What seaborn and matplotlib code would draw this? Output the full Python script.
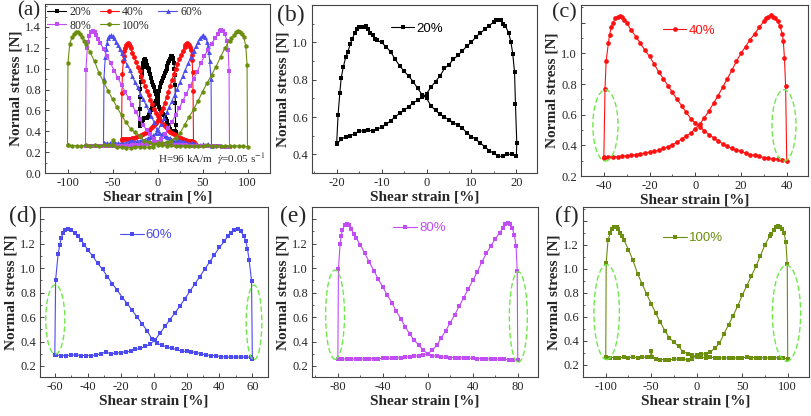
import numpy as np
import pandas as pd
import matplotlib
matplotlib.use("Agg")
import matplotlib.pyplot as plt
from matplotlib.patches import Ellipse
from matplotlib.ticker import AutoMinorLocator
import seaborn as sns

# ================= DATA =================
# "up" = strain increasing (-A -> +A), "down" = strain decreasing (+A -> -A)
strain_20_up = [-20.0, -19.7, -19.3, -19.0, -18.5, -18.0, -17.5, -17.0, -16.5, -16.0,
                -15.5, -15.0, -14.5, -14.0, -13.5, -13.0, -12.5, -12.0, -11.5, -11.0,
                -10, -9, -8, -7, -6, -5, -4, -3, -2, -1, 0, 1, 2, 3, 4, 5, 6, 7, 8, 9, 10,
                11, 12, 13, 14, 15, 16, 17, 18, 19, 20]
stress_20_up = [0.46, 0.61, 0.73, 0.81, 0.87, 0.92, 0.95, 0.99, 1.02, 1.05,
                1.07, 1.08, 1.08, 1.08, 1.09, 1.07, 1.05, 1.04, 1.02, 1.01,
                1.00, 0.975, 0.95, 0.91, 0.875, 0.845, 0.82, 0.79, 0.755, 0.72, 0.70,
                0.66, 0.635, 0.615, 0.60, 0.585, 0.57, 0.555, 0.54, 0.515, 0.495,
                0.48, 0.46, 0.44, 0.42, 0.405, 0.39, 0.39, 0.40, 0.40, 0.39]
strain_20_down = [20.1, 19.8, 19.6, 19.2, 18.8, 18.3, 17.5, 17.0, 16.5, 16.0, 15.5, 15.0,
                  14, 13, 12, 11, 10, 9, 8, 7, 6, 5, 4, 3, 2, 1, 0, -1, -2, -3, -4, -5,
                  -6, -7, -8, -9, -10, -11, -12, -13, -14, -15, -16, -17, -18, -19, -20]
stress_20_down = [0.46, 0.67, 0.84, 0.94, 1.00, 1.05, 1.09, 1.10, 1.12, 1.12, 1.12, 1.11,
                  1.09, 1.07, 1.05, 1.03, 1.00, 0.98, 0.955, 0.93, 0.91, 0.88,
                  0.86, 0.82, 0.79, 0.76, 0.725, 0.705, 0.69, 0.675, 0.655, 0.635,
                  0.62, 0.60, 0.58, 0.56, 0.545, 0.535, 0.525, 0.53, 0.525, 0.525,
                  0.51, 0.50, 0.495, 0.48, 0.455]

strain_40_up = [-40, -39.5, -39, -38, -37.5, -36.8, -36, -35, -34, -33, -32, -31, -30,
                -28, -26, -24, -22, -20, -18, -16, -14, -12, -10, -8, -6, -4, -2, 0,
                2, 4, 6, 8, 10, 12, 14, 16, 18, 20, 22, 24, 26, 28, 30, 32, 34, 36, 38, 40]
stress_40_up = [0.32, 0.77, 0.95, 1.07, 1.12, 1.17, 1.20, 1.23, 1.24, 1.245, 1.24, 1.22, 1.20,
                1.15, 1.11, 1.065, 1.02, 0.98, 0.93, 0.88, 0.835, 0.79, 0.745,
                0.70, 0.66, 0.615, 0.575, 0.545, 0.52, 0.495, 0.47, 0.45, 0.43,
                0.41, 0.395, 0.38, 0.37, 0.36, 0.35, 0.34, 0.335, 0.33, 0.32,
                0.315, 0.31, 0.31, 0.305, 0.30]
strain_40_down = [39.5, 39, 38.5, 38, 37, 36, 35, 34, 33, 32, 31, 30,
                  28, 26, 24, 22, 20, 18, 16, 14, 12, 10, 8, 6, 4, 2, 0, -2, -4, -6, -8,
                  -10, -12, -14, -16, -18, -20, -22, -24, -26, -28, -30, -32, -34, -36, -38, -40]
stress_40_down = [0.79, 0.97, 1.08, 1.13, 1.18, 1.21, 1.23, 1.24, 1.25, 1.24, 1.23, 1.21,
                  1.17, 1.13, 1.09, 1.045, 1.00, 0.95, 0.89, 0.835, 0.78, 0.725,
                  0.675, 0.625, 0.58, 0.54, 0.51, 0.48, 0.46, 0.44, 0.42, 0.405,
                  0.39, 0.38, 0.37, 0.36, 0.355, 0.35, 0.345, 0.34, 0.335, 0.33,
                  0.33, 0.325, 0.325, 0.325, 0.325]

strain_60_up = [-60, -59.5, -58, -57, -56, -55, -54, -52, -50, -48, -46, -44, -42, -40,
                -37, -34, -31, -28, -25, -22, -19, -16, -13, -10, -7, -4, -1, 2, 5, 8,
                11, 14, 17, 20, 23, 26, 29, 32, 35, 38, 41, 44, 47, 50, 53, 56, 59, 60]
stress_60_up = [0.29, 0.905, 1.115, 1.19, 1.25, 1.29, 1.31, 1.32, 1.31, 1.29, 1.26, 1.23, 1.19, 1.15,
                1.10, 1.04, 0.99, 0.93, 0.87, 0.82, 0.76, 0.71, 0.655, 0.60,
                0.545, 0.49, 0.42, 0.385, 0.37, 0.355, 0.345, 0.335, 0.32, 0.32,
                0.315, 0.31, 0.30, 0.29, 0.285, 0.285, 0.275, 0.275, 0.27, 0.275,
                0.27, 0.275, 0.27, 0.26]
strain_60_down = [59.5, 58, 57, 56, 55, 53, 51, 49, 47, 45, 43,
                  40, 37, 34, 31, 28, 25, 22, 19, 16, 13, 10, 7, 4, 1, -2, -5, -8, -11,
                  -14, -17, -20, -23, -26, -29, -32, -35, -38, -41, -44, -47, -50, -53,
                  -56, -59, -60]
stress_60_down = [0.897, 1.07, 1.16, 1.22, 1.26, 1.30, 1.32, 1.31, 1.29, 1.26, 1.22,
                  1.17, 1.11, 1.05, 0.99, 0.93, 0.87, 0.81, 0.75, 0.69, 0.635,
                  0.58, 0.525, 0.47, 0.415, 0.38, 0.36, 0.345, 0.335, 0.32, 0.315,
                  0.31, 0.305, 0.30, 0.315, 0.30, 0.29, 0.285, 0.285, 0.285, 0.29,
                  0.29, 0.285, 0.285, 0.29, 0.29]

strain_80_up = [-80, -79.5, -78, -77, -76, -74, -72, -70, -68, -66, -64,
                -60, -56, -52, -48, -44, -40, -36, -32, -28, -24, -20, -16, -12, -8, -4,
                0, 4, 8, 12, 16, 20, 24, 28, 32, 36, 40, 44, 48, 52, 56, 60, 64, 68, 72, 76, 80]
stress_80_up = [0.257, 0.99, 1.20, 1.26, 1.315, 1.35, 1.36, 1.35, 1.32, 1.28, 1.25,
                1.19, 1.12, 1.05, 0.98, 0.91, 0.845, 0.78, 0.715, 0.65, 0.585,
                0.52, 0.46, 0.41, 0.37, 0.33, 0.30, 0.285, 0.28, 0.275, 0.27,
                0.268, 0.268, 0.268, 0.265, 0.263, 0.263, 0.26, 0.26, 0.258, 0.257,
                0.257, 0.255, 0.255, 0.25, 0.25, 0.25]
strain_80_down = [79.5, 78.5, 77, 75, 73, 71, 69, 67, 64,
                  60, 56, 52, 48, 44, 40, 36, 32, 28, 24, 20, 16, 12, 8, 4, 0, -4, -8,
                  -12, -16, -20, -24, -28, -32, -36, -40, -44, -48, -52, -56, -60, -64,
                  -68, -72, -76, -80]
stress_80_down = [0.98, 1.18, 1.27, 1.33, 1.36, 1.37, 1.36, 1.33, 1.29,
                  1.24, 1.18, 1.12, 1.05, 0.97, 0.90, 0.83, 0.76, 0.69, 0.62,
                  0.555, 0.49, 0.43, 0.37, 0.33, 0.30, 0.29, 0.285, 0.28, 0.275,
                  0.272, 0.268, 0.265, 0.263, 0.263, 0.262, 0.26, 0.26, 0.26, 0.258,
                  0.257, 0.257, 0.257, 0.257, 0.258, 0.26]

strain_100_up = [-100, -99.5, -97.5, -95, -93, -91, -88, -86, -84, -82,
                 -80, -75, -70, -65, -60, -55, -50, -45, -40, -35, -30, -25, -20, -15,
                 -10, -5, 0, 5, 10, 15, 20, 25, 30, 35, 40, 45, 50, 55, 60, 65, 70, 75,
                 80, 85, 90, 95, 100]
stress_100_up = [0.27, 1.05, 1.24, 1.30, 1.33, 1.35, 1.35, 1.33, 1.30, 1.27,
                 1.24, 1.16, 1.07, 0.96, 0.875, 0.79, 0.71, 0.63, 0.555, 0.485,
                 0.425, 0.39, 0.355, 0.31, 0.295, 0.28, 0.27, 0.265, 0.262, 0.265,
                 0.26, 0.258, 0.258, 0.26, 0.258, 0.258, 0.26, 0.264, 0.262, 0.26,
                 0.26, 0.258, 0.26, 0.258, 0.26, 0.255, 0.252]
strain_100_down = [99.5, 98, 96, 94, 92, 89, 87, 85, 82,
                   80, 75, 70, 65, 60, 55, 50, 45, 40, 35, 30, 25, 20, 15, 10, 5, 0,
                   -5, -10, -15, -20, -25, -30, -35, -40, -45, -49, -50, -51,
                   -55, -60, -65, -70, -75, -80, -85, -90, -95, -100]
stress_100_down = [1.04, 1.22, 1.30, 1.33, 1.35, 1.36, 1.35, 1.32, 1.29,
                   1.27, 1.20, 1.11, 1.02, 0.94, 0.86, 0.78, 0.69, 0.61, 0.535,
                   0.46, 0.38, 0.34, 0.31, 0.295, 0.29, 0.285, 0.25, 0.245, 0.25,
                   0.25, 0.248, 0.244, 0.244, 0.245, 0.25, 0.27, 0.32, 0.265,
                   0.264, 0.264, 0.262, 0.264, 0.262, 0.264, 0.26, 0.262, 0.262, 0.27]

labels = ["20%", "40%", "60%", "80%", "100%"]
colors = ["#000000", "#ff1010", "#4b4bef", "#c24cf5", "#6b8e0e"]
markers_a = ["s", "o", "^", "s", "h"]

# ================= STYLE =================
sns.set_style("ticks")
plt.rcParams['font.family'] = ['Liberation Serif', 'DejaVu Serif']
plt.rcParams['mathtext.fontset'] = 'stix'
plt.rcParams['axes.unicode_minus'] = False
plt.rcParams['xtick.direction'] = 'in'
plt.rcParams['ytick.direction'] = 'in'
plt.rcParams['axes.edgecolor'] = '#444444'
plt.rcParams['axes.linewidth'] = 0.8

fig = plt.figure(figsize=(8.12, 4.16), dpi=100)
W, H = 812.0, 416.0

def add_ax(l, t, r, b):
    return fig.add_axes([l / W, 1 - b / H, (r - l) / W, (b - t) / H])

def loop(up_x, up_y, dn_x, dn_y):
    return pd.DataFrame({"strain": list(up_x) + list(dn_x),
                         "stress": list(up_y) + list(dn_y)})

loops = [loop(strain_20_up, stress_20_up, strain_20_down, stress_20_down),
         loop(strain_40_up, stress_40_up, strain_40_down, stress_40_down),
         loop(strain_60_up, stress_60_up, strain_60_down, stress_60_down),
         loop(strain_80_up, stress_80_up, strain_80_down, stress_80_down),
         loop(strain_100_up, stress_100_up, strain_100_down, stress_100_down)]

def style_ax(ax, xticks, xlim, yticks, ylim, ytick_labels=None):
    ax.set_xlim(*xlim)
    ax.set_ylim(*ylim)
    ax.set_xticks(xticks)
    ax.set_yticks(yticks)
    if ytick_labels is not None:
        ax.set_yticklabels(ytick_labels)
    ax.xaxis.set_minor_locator(AutoMinorLocator(2))
    ax.yaxis.set_minor_locator(AutoMinorLocator(2))
    ax.tick_params(which='major', length=3, width=0.7, labelsize=9, pad=3, color='#444444')
    ax.tick_params(which='minor', length=1.5, width=0.6, color='#444444')
    for s in ax.spines.values():
        s.set_visible(True)
    ax.set_xlabel("Shear strain [%]", fontsize=11, fontweight='bold', labelpad=1)
    ax.set_ylabel("Normal stress [N]", fontsize=11, fontweight='bold', labelpad=2)

# --- (a) all amplitudes ---
ax_a = add_ax(45, 4, 270, 173)
for i in range(5):
    sns.lineplot(data=loops[i], x="strain", y="stress", sort=False, estimator=None,
                 ax=ax_a, color=colors[i], marker=markers_a[i], markersize=3.5,
                 markeredgewidth=0, linewidth=0.8, label=labels[i])
style_ax(ax_a, [-100, -50, 0, 50, 100], (-125, 125),
         [0.0, 0.2, 0.4, 0.6, 0.8, 1.0, 1.2, 1.4], (0.0, 1.62))
# legend laid out row-wise: 20/40/60 on top, 80/100 below
h, l = ax_a.get_legend_handles_labels()
order = [0, 3, 1, 4, 2]
ax_a.legend([h[k] for k in order], [l[k] for k in order],
            loc='upper left', bbox_to_anchor=(0.0, 1.0), ncol=3, frameon=False,
            fontsize=8.5, handlelength=1.6, handletextpad=0.3, columnspacing=0.7,
            labelspacing=0.1, borderpad=0.1, borderaxespad=0.1)
ax_a.text(0.5, 0.035, r"H=96 kA/m  $\dot{\gamma}$=0.05 s$^{-1}$", transform=ax_a.transAxes,
          fontsize=8, ha='left', va='bottom')

# --- single amplitude panels ---
panels = [
    # idx, box(l,t,r,b), xticks, xlim, yticks, ylim, ylabels, legend pos, ellipses
    (0, (312, 5, 537, 173), [-20, -10, 0, 10, 20], (-25.5, 24.6),
     [0.4, 0.6, 0.8, 1.0], (0.3, 1.2), None, (0.35, 0.86), []),
    (1, (581, 5, 808, 176), [-40, -20, 0, 20, 40], (-50, 49.3),
     [0.2, 0.4, 0.6, 0.8, 1.0, 1.2], (0.2, 1.316),
     ["0.2", "0.4", "0.6", "0.8", "1.0", ""], (0.36, 0.85),
     [(-39.3, 0.53, 11, 0.465), (38.8, 0.53, 10.5, 0.465)]),
    (2, (40, 207, 268, 377), [-60, -40, -20, 0, 20, 40, 60], (-69, 69.5),
     [0.2, 0.4, 0.6, 0.8, 1.0, 1.2, 1.4], (0.11, 1.5),
     ["0.2", "0.4", "0.6", "0.8", "1.0", "1.2", ""], (0.35, 0.835),
     [(-59.7, 0.58, 11.6, 0.566), (61, 0.556, 9.5, 0.61)]),
    (3, (312, 207, 538, 377), [-80, -40, 0, 40, 80], (-103, 98),
     [0.2, 0.4, 0.6, 0.8, 1.0, 1.2, 1.4], (0.11, 1.5),
     ["0.2", "0.4", "0.6", "0.8", "1.0", "1.2", ""], (0.36, 0.875),
     [(-82.5, 0.62, 16.8, 0.73), (80.5, 0.60, 16, 0.74)]),
    (4, (583, 207, 809, 377), [-100, -50, 0, 50, 100], (-125, 123.4),
     [0.2, 0.4, 0.6, 0.8, 1.0, 1.2, 1.4], (0.1, 1.515),
     ["0.2", "0.4", "0.6", "0.8", "1.0", "1.2", ""], (0.355, 0.816),
     [(-99, 0.64, 28, 0.79), (98.7, 0.63, 31, 0.80)]),
]

axes = {}
for idx, box, xt, xl, yt, yl, ylab, lpos, ells in panels:
    ax = add_ax(*box)
    sns.lineplot(data=loops[idx], x="strain", y="stress", sort=False, estimator=None,
                 ax=ax, color=colors[idx], marker='s' if idx != 1 else 'o',
                 markersize=3.4, markeredgewidth=0, linewidth=0.8, label=labels[idx])
    style_ax(ax, xt, xl, yt, yl, ylab)
    for cx, cy, w, h_ in ells:
        ax.add_patch(Ellipse((cx, cy), w, h_, fill=False, edgecolor='#6fe84a',
                             linestyle=(0, (4, 2)), linewidth=1.0, zorder=5))
    leg = ax.legend(loc='center left', bbox_to_anchor=lpos, frameon=False,
                    prop={'family': 'Liberation Sans', 'size': 9.5},
                    handlelength=1.8, handletextpad=0.15, borderpad=0, borderaxespad=0)
    leg.get_texts()[0].set_color(colors[idx])
    axes[idx] = ax

# panel letters
letter_pos = [(17, 1, 15), (277, 5, 17), (552, 3, 16), (9, 206, 17), (280, 206, 17), (555, 206, 17)]
for letter, (px, py, fs) in zip("abcdef", letter_pos):
    fig.text(px / W, 1 - py / H, f"({letter})", fontsize=fs, ha='left', va='top')

fig.savefig("out.png", dpi=100)
